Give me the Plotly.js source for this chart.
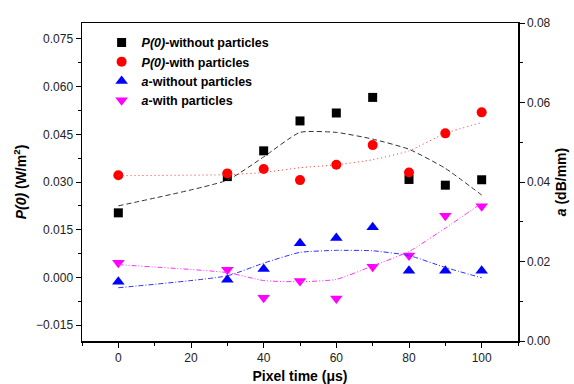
<!DOCTYPE html>
<html>
<head>
<meta charset="utf-8">
<script src="https://cdn.plot.ly/plotly-3.0.1.min.js"></script>
<style>html,body{margin:0;padding:0;background:#fff}#chart{width:574px;height:384px}</style>
</head>
<body>
<div id="chart"></div>
<script>
// Data
const pixelTime = [0, 30, 40, 50, 60, 70, 80, 90, 100];
const p0Without = [0.0203, 0.0317, 0.0398, 0.0492, 0.0517, 0.0566, 0.0308, 0.0290, 0.0307];
const p0With = [0.0321, 0.0327, 0.0341, 0.0306, 0.0354, 0.0416, 0.0330, 0.0453, 0.0519];
const aWithout = [0.0149, 0.0154, 0.0181, 0.0246, 0.0259, 0.0286, 0.0177, 0.0177, 0.0177];
const aWith = [0.0197, 0.0179, 0.0109, 0.0151, 0.0107, 0.0187, 0.0215, 0.0315, 0.0339];
// Smoothed trend curves
const p0WithoutFit = [0.0225, 0.0306, 0.0379, 0.0456, 0.0456, 0.0435, 0.0403, 0.0343, 0.0259];
const p0WithFit = [0.0320, 0.0323, 0.0330, 0.0345, 0.0354, 0.0370, 0.0398, 0.0453, 0.0487];
const aWithoutFit = [0.0134, 0.0164, 0.0196, 0.0223, 0.0228, 0.0227, 0.0215, 0.0185, 0.0159];
const aWithFit = [0.0192, 0.0172, 0.0152, 0.0149, 0.0155, 0.0189, 0.0225, 0.0284, 0.0347];
const seriesNames = ['<b><i>P(0)</i>-without particles</b>', '<b><i>P(0)</i>-with particles</b>',
  '<b><i>a</i>-without particles</b>', '<b><i>a</i>-with particles</b>'];

const traces = [
  {x: pixelTime, y: p0Without, name: seriesNames[0], mode: 'markers', type: 'scatter',
   marker: {symbol: 'square', size: 9, color: '#000'}},
  {x: pixelTime, y: p0With, name: seriesNames[1], mode: 'markers', type: 'scatter',
   marker: {symbol: 'circle', size: 10, color: '#ff0000'}},
  {x: pixelTime, y: aWithout, name: seriesNames[2], mode: 'markers', type: 'scatter', yaxis: 'y2',
   marker: {symbol: 'triangle-up', size: 11, color: '#0000ff'}},
  {x: pixelTime, y: aWith, name: seriesNames[3], mode: 'markers', type: 'scatter', yaxis: 'y2',
   marker: {symbol: 'triangle-down', size: 11, color: '#ff00ff'}},
  {x: pixelTime, y: p0WithoutFit, mode: 'lines', type: 'scatter', showlegend: false, hoverinfo: 'skip',
   line: {shape: 'spline', smoothing: 0.5, color: '#333', width: 1, dash: '5px,3px'}},
  {x: pixelTime, y: p0WithFit, mode: 'lines', type: 'scatter', showlegend: false, hoverinfo: 'skip',
   line: {shape: 'spline', smoothing: 0.5, color: '#ff3030', width: 1, dash: '1px,3px'}},
  {x: pixelTime, y: aWithoutFit, mode: 'lines', type: 'scatter', yaxis: 'y2', showlegend: false, hoverinfo: 'skip',
   line: {shape: 'spline', smoothing: 0.5, color: '#3030ff', width: 1, dash: '5px,2px,1px,2px'}},
  {x: pixelTime, y: aWithFit, mode: 'lines', type: 'scatter', yaxis: 'y2', showlegend: false, hoverinfo: 'skip',
   line: {shape: 'spline', smoothing: 0.5, color: '#ff30ff', width: 1, dash: '5px,2px,1px,2px,1px,2px'}}
];

const tickFont = {family: 'Liberation Sans, Arial, sans-serif', size: 12, color: '#222'};
const titleFont = {family: 'Liberation Sans, Arial, sans-serif', size: 14, color: '#000'};

const layout = {
  width: 574, height: 384,
  margin: {l: 82, r: 56, t: 23, b: 43},
  paper_bgcolor: '#fff', plot_bgcolor: '#fff',
  showlegend: true,
  legend: {x: 0.045, y: 0.985, xanchor: 'left', yanchor: 'top', bgcolor: 'rgba(0,0,0,0)',
    font: {family: 'Liberation Sans, Arial, sans-serif', size: 12.5, color: '#000'},
    tracegroupgap: 0, itemwidth: 30},
  xaxis: {
    range: [-10, 110], tickvals: [0, 20, 40, 60, 80, 100], ticks: 'outside', ticklen: 5, tickwidth: 1,
    tickcolor: '#000', showline: true, linecolor: '#000', linewidth: 1.5, mirror: true,
    showgrid: false, zeroline: false, tickfont: tickFont,
    minor: {dtick: 10, tick0: 0, ticks: 'outside', ticklen: 3, tickcolor: '#000', showgrid: false},
    title: {text: '<b>Pixel time (μs)</b>', font: titleFont, standoff: 8}
  },
  yaxis: {
    range: [-0.02, 0.08], tickvals: [-0.015, 0, 0.015, 0.03, 0.045, 0.06, 0.075], tickformat: '.3f',
    ticks: 'outside', ticklen: 5, tickwidth: 1, tickcolor: '#000',
    showline: true, linecolor: '#000', linewidth: 1.5, showgrid: false, zeroline: false, tickfont: tickFont,
    minor: {dtick: 0.0075, tick0: 0, ticks: 'outside', ticklen: 3, tickcolor: '#000', showgrid: false},
    title: {text: '<b><i>P(0)</i> (W/m<sup>2</sup>)</b>', font: titleFont, standoff: 6}
  },
  yaxis2: {
    overlaying: 'y', side: 'right', range: [0, 0.08], tickvals: [0, 0.02, 0.04, 0.06, 0.08], tickformat: '.2f',
    ticks: 'outside', ticklen: 5, tickwidth: 1, tickcolor: '#000',
    showline: true, linecolor: '#000', linewidth: 1.5, showgrid: false, zeroline: false, tickfont: tickFont,
    minor: {dtick: 0.01, tick0: 0, ticks: 'outside', ticklen: 3, tickcolor: '#000', showgrid: false},
    title: {text: '<b><i>a</i> (dB/mm)</b>', font: titleFont, standoff: 6}
  }
};

Plotly.newPlot('chart', traces, layout, {displayModeBar: false, staticPlot: true});
</script>
</body>
</html>
